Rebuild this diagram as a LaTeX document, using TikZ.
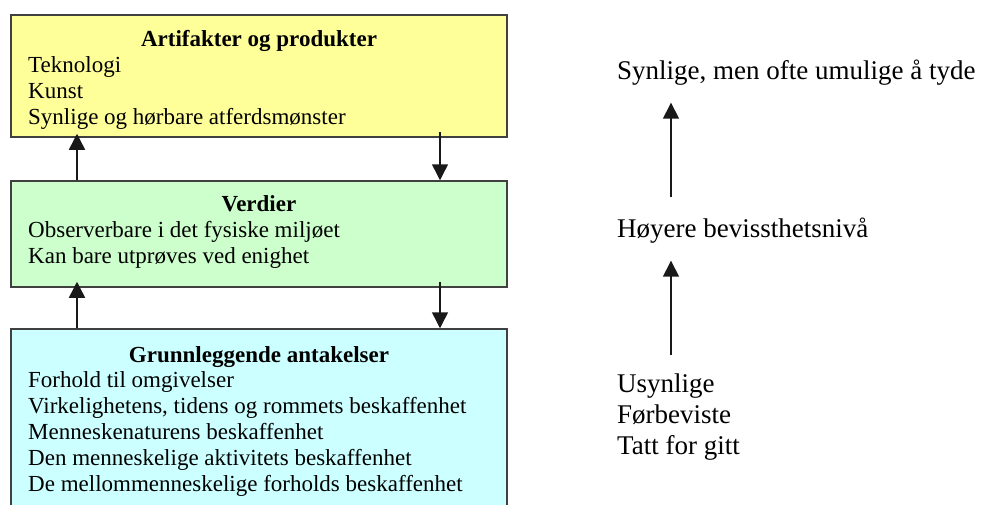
\documentclass[tikz,border=0pt]{standalone}
\usepackage{fontspec}
\setmainfont{Liberation Serif}
\definecolor{ArtYellow}{HTML}{FFFF99}
\definecolor{ValGreen}{HTML}{CCFFCC}
\definecolor{BaseCyan}{HTML}{CCFFFF}
\definecolor{EdgeGray}{HTML}{404040}
\usetikzlibrary{arrows.meta, positioning, calc}

\begin{document}
\begin{tikzpicture}[x=1pt, y=-1pt, >={Triangle[width=16pt, length=16pt]},
    layer/.style={draw=EdgeGray, line width=1.5pt, minimum width=496pt, inner sep=0pt},
    title/.style={font=\fontsize{23}{26}\selectfont\bfseries, inner sep=0pt, anchor=base},
    items/.style={font=\fontsize{23}{26}\selectfont, align=left, inner sep=0pt, anchor=north west,
        execute at begin node=\strut},
    side/.style={font=\fontsize{27}{31}\selectfont, align=left, inner sep=0pt, anchor=north west,
        execute at begin node=\strut},
    link/.style={->, line width=1.5pt, draw=black!90}]
    \useasboundingbox (0,0) rectangle (986,504);
    \clip (0,0) rectangle (986,504);
    % the three layers
    \node[layer, fill=ArtYellow, minimum height=122pt] (art) at (259,76) {};
    \node[layer, fill=ValGreen, minimum height=106pt] (val) at (259,234) {};
    \node[layer, fill=BaseCyan, minimum height=211pt] (base) at (259,434.5) {};
    \node[title] (art-title) at (259,46) {Artifakter og produkter};
    \node[items] (art-items) at (28,56) {Teknologi\\Kunst\\Synlige og hørbare atferdsmønster};
    \node[title] (val-title) at (259,211) {Verdier};
    \node[items] (val-items) at (28,221) {Observerbare i det fysiske miljøet\\Kan bare utprøves ved enighet};
    \node[title] (base-title) at (259,362) {Grunnleggende antakelser};
    \node[items] (base-items) at (28,371) {Forhold til omgivelser\\Virkelighetens, tidens og rommets beskaffenhet\\Menneskenaturens beskaffenhet\\Den menneskelige aktivitets beskaffenhet\\De mellommenneskelige forholds beskaffenhet};
    \coordinate (up) at (77,0);
    \coordinate (down) at (440,0);
    \draw[link, shorten >=-4pt] (val.north -| up) -- (art.south -| up);
    \draw[link, shorten <=-6pt] (art.south -| down) -- (val.north -| down);
    \draw[link, shorten >=-6pt] (base.north -| up) -- (val.south -| up);
    \draw[link, shorten <=-6pt] (val.south -| down) -- (base.north -| down);
    % visibility scale
    \node[side] (vis) at (617,57.3) {Synlige, men ofte umulige å tyde};
    \node[side] (aware) at (617,215.3) {Høyere bevissthetsnivå};
    \node[side] (invis) at (617,373.3) {Usynlige\\Førbeviste\\Tatt for gitt};
    \coordinate (scale) at (671,0);
    \draw[link, shorten <=18pt, shorten >=14pt] (aware.north -| scale) -- (vis.south -| scale);
    \draw[link, shorten <=18pt, shorten >=14pt] (invis.north -| scale) -- (aware.south -| scale);
\end{tikzpicture}
\end{document}
